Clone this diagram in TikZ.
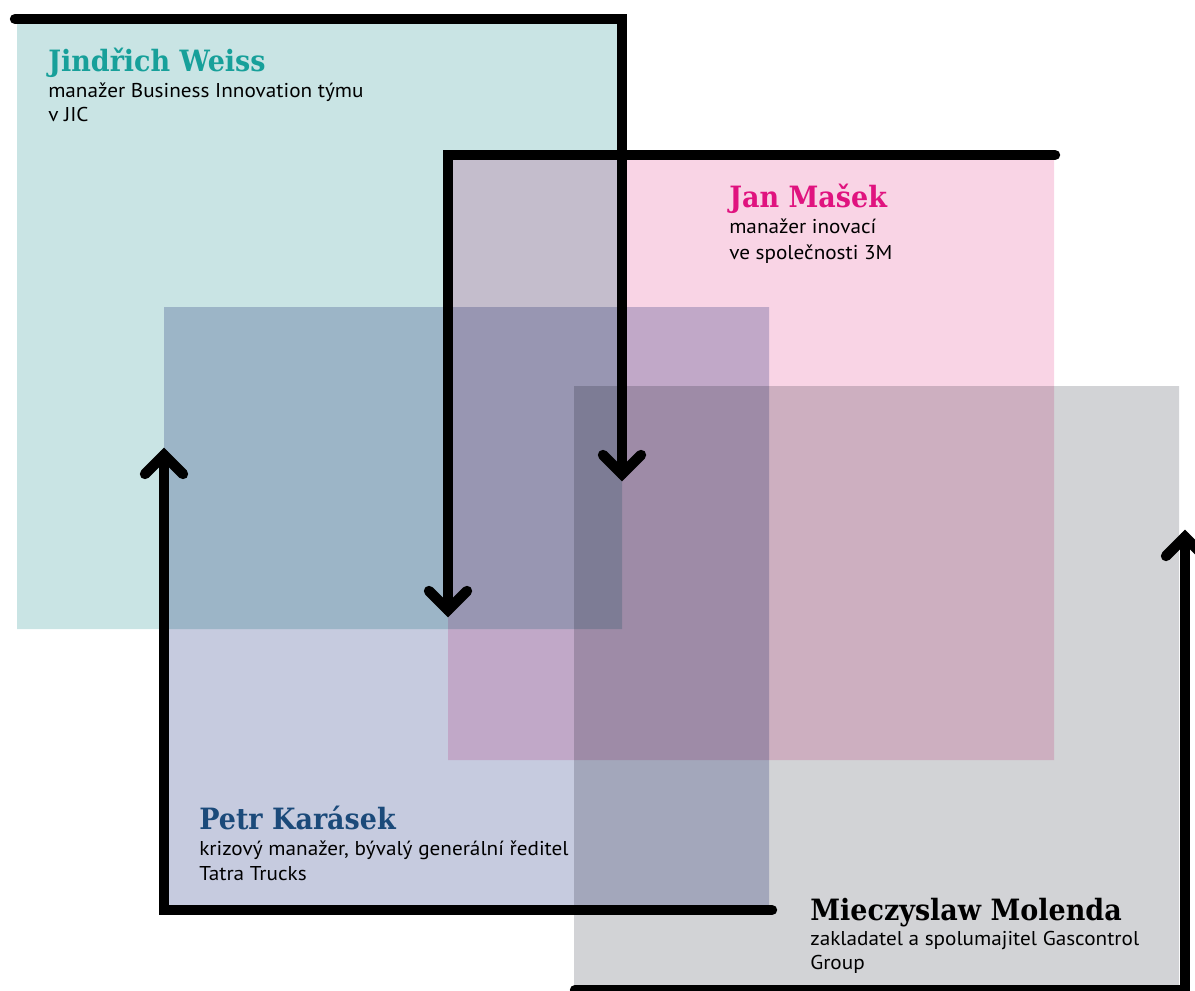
\documentclass[tikz,border=0pt]{standalone}
\usepackage{fontspec}
\newfontfamily\namefont[FakeStretch=0.92]{DejaVu Serif}
\newfontfamily\subfont[FakeStretch=1.06]{PT Sans}
\definecolor{tealbox}{RGB}{201,228,228}
\definecolor{pinkbox}{RGB}{249,212,229}
\definecolor{lavbox}{RGB}{198,203,223}
\definecolor{graybox}{RGB}{210,211,214}
\definecolor{tealname}{RGB}{23,160,154}
\definecolor{pinkname}{RGB}{224,19,127}
\definecolor{bluename}{RGB}{27,74,122}
\tikzset{
  namelbl/.style={anchor=base west, inner sep=0pt, font=\namefont\bfseries\fontsize{22}{26}\selectfont},
  sublbl/.style={anchor=base west, inner sep=0pt, font=\subfont\fontsize{15}{18}\selectfont, text=black},
  conn/.style={line width=7.8pt, line cap=round, line join=miter, draw=black},
  headstroke/.style={line width=7.8pt, line cap=round, line join=miter, draw=black},
}
\begin{document}
\begin{tikzpicture}[x=0.75pt,y=-0.75pt]
\useasboundingbox (0,0) rectangle (1195,991);
\begin{scope}[blend group=multiply]
  \fill[tealbox] (17,24) rectangle (622,629);
  \fill[pinkbox] (448,155) rectangle (1054,760);
  \fill[lavbox] (164,307) rectangle (769,910);
  \fill[graybox] (574,386) rectangle (1179,991);
\end{scope}
% texts
\node[namelbl, text=tealname] (weiss) at (48,72) {Jindřich Weiss};
\node[sublbl] (weiss1) at (48,98) {manažer Business Innovation týmu};
\node[sublbl] (weiss2) at (48,122) {v JIC};
\node[namelbl, text=pinkname] (masek) at (729,208) {Jan Mašek};
\node[sublbl] (masek1) at (729,234) {manažer inovací};
\node[sublbl] (masek2) at (729,259) {ve společnosti 3M};
\node[namelbl, text=bluename] (karasek) at (199,829) {Petr Karásek};
\node[sublbl] (karasek1) at (199,855) {krizový manažer, bývalý generální ředitel};
\node[sublbl] (karasek2) at (199,880) {Tatra Trucks};
\node[namelbl, text=black] (molenda) at (810,920) {Mieczyslaw Molenda};
\node[sublbl] (molenda1) at (810,945) {zakladatel a spolumajitel Gascontrol};
\node[sublbl] (molenda2) at (810,969) {Group};
% connectors
\coordinate (a1s) at (15,19);  \coordinate (a1c) at (622,19);  \coordinate (a1t) at (622,474);
\coordinate (a2s) at (1055,155); \coordinate (a2c) at (448,155); \coordinate (a2t) at (448,610);
\coordinate (a3s) at (772,910); \coordinate (a3c) at (164,910); \coordinate (a3t) at (164,455);
\coordinate (a4s) at (575,990); \coordinate (a4c) at (1185,990); \coordinate (a4t) at (1185,537);
\draw[conn] (a1s) -- (a1c) -- (a1t);
\draw[headstroke] ([shift={(-19,-19)}]a1t) -- (a1t) -- ([shift={(19,-19)}]a1t);
\draw[conn] (a2s) -- (a2c) -- (a2t);
\draw[headstroke] ([shift={(-19,-19)}]a2t) -- (a2t) -- ([shift={(19,-19)}]a2t);
\draw[conn] (a3s) -- (a3c) -- (a3t);
\draw[headstroke] ([shift={(-19,19)}]a3t) -- (a3t) -- ([shift={(19,19)}]a3t);
\draw[conn] (a4s) -- (a4c) -- (a4t);
\draw[headstroke] ([shift={(-19,19)}]a4t) -- (a4t) -- ([shift={(19,19)}]a4t);
\end{tikzpicture}
\end{document}
